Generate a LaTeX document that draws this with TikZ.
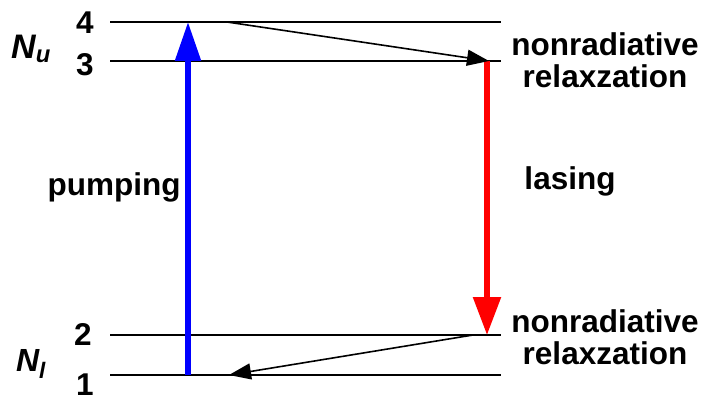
\documentclass[tikz,border=0pt]{standalone}
\usepackage{fontspec}
\setmainfont{Liberation Sans}
\usetikzlibrary{arrows.meta}

\begin{document}
\begin{tikzpicture}[x=1pt,y=-1pt,
every node/.style={font=\bfseries\fontsize{31.5}{32}\selectfont,inner sep=0pt,align=center},
level/.style={line width=2pt},
pump/.style={blue,line width=5.5pt,-{Triangle[length=39pt,width=25pt]}},
lase/.style={red,line width=5.5pt,-{Triangle[length=38pt,width=27pt]}},
relax/.style={line width=1.6pt,-{Triangle[length=22pt,width=16pt]}}]
\useasboundingbox (0,0) rectangle (712,396);
% energy levels
\coordinate (l4a) at (110,22);  \coordinate (l4b) at (501,22);
\coordinate (l3a) at (110,61);  \coordinate (l3b) at (501,61);
\coordinate (l2a) at (110,335); \coordinate (l2b) at (501,335);
\coordinate (l1a) at (110,375); \coordinate (l1b) at (501,375);
\draw[level] (l4a)--(l4b);
\draw[level] (l3a)--(l3b);
\draw[level] (l2a)--(l2b);
\draw[level] (l1a)--(l1b);
\node (n4) at (85,23) {4};
\node (n3) at (85,65) {3};
\node (n2) at (83,334) {2};
\node (n1) at (85,385) {1};
\node[font=\bfseries\itshape\fontsize{34}{34}\selectfont] (nu) at (31,49) {N\textsubscript{u}};
\node[font=\bfseries\itshape\fontsize{32}{32}\selectfont] (nl) at (31,364) {N\textsubscript{l}};
% transitions
\coordinate (pumpfrom) at (188,375); \coordinate (pumpto) at (188,22);
\coordinate (lasefrom) at (487,61);  \coordinate (laseto) at (487,335);
\coordinate (top) at (227,22);       \coordinate (topto) at (489,61);
\coordinate (bot) at (473,335);      \coordinate (botto) at (229,375);
\draw[pump] (pumpfrom)--(pumpto);
\draw[lase] (lasefrom)--(laseto);
\draw[relax] (top)--(topto);
\draw[relax] (bot)--(botto);
\node (pumping) at (114,187) {pumping};
\node (lasing) at (570,181) {lasing};
\node (relaxup) at (605,60) {nonradiative\\relaxzation};
\node (relaxlow) at (605,337) {nonradiative\\relaxzation};
\end{tikzpicture}
\end{document}
